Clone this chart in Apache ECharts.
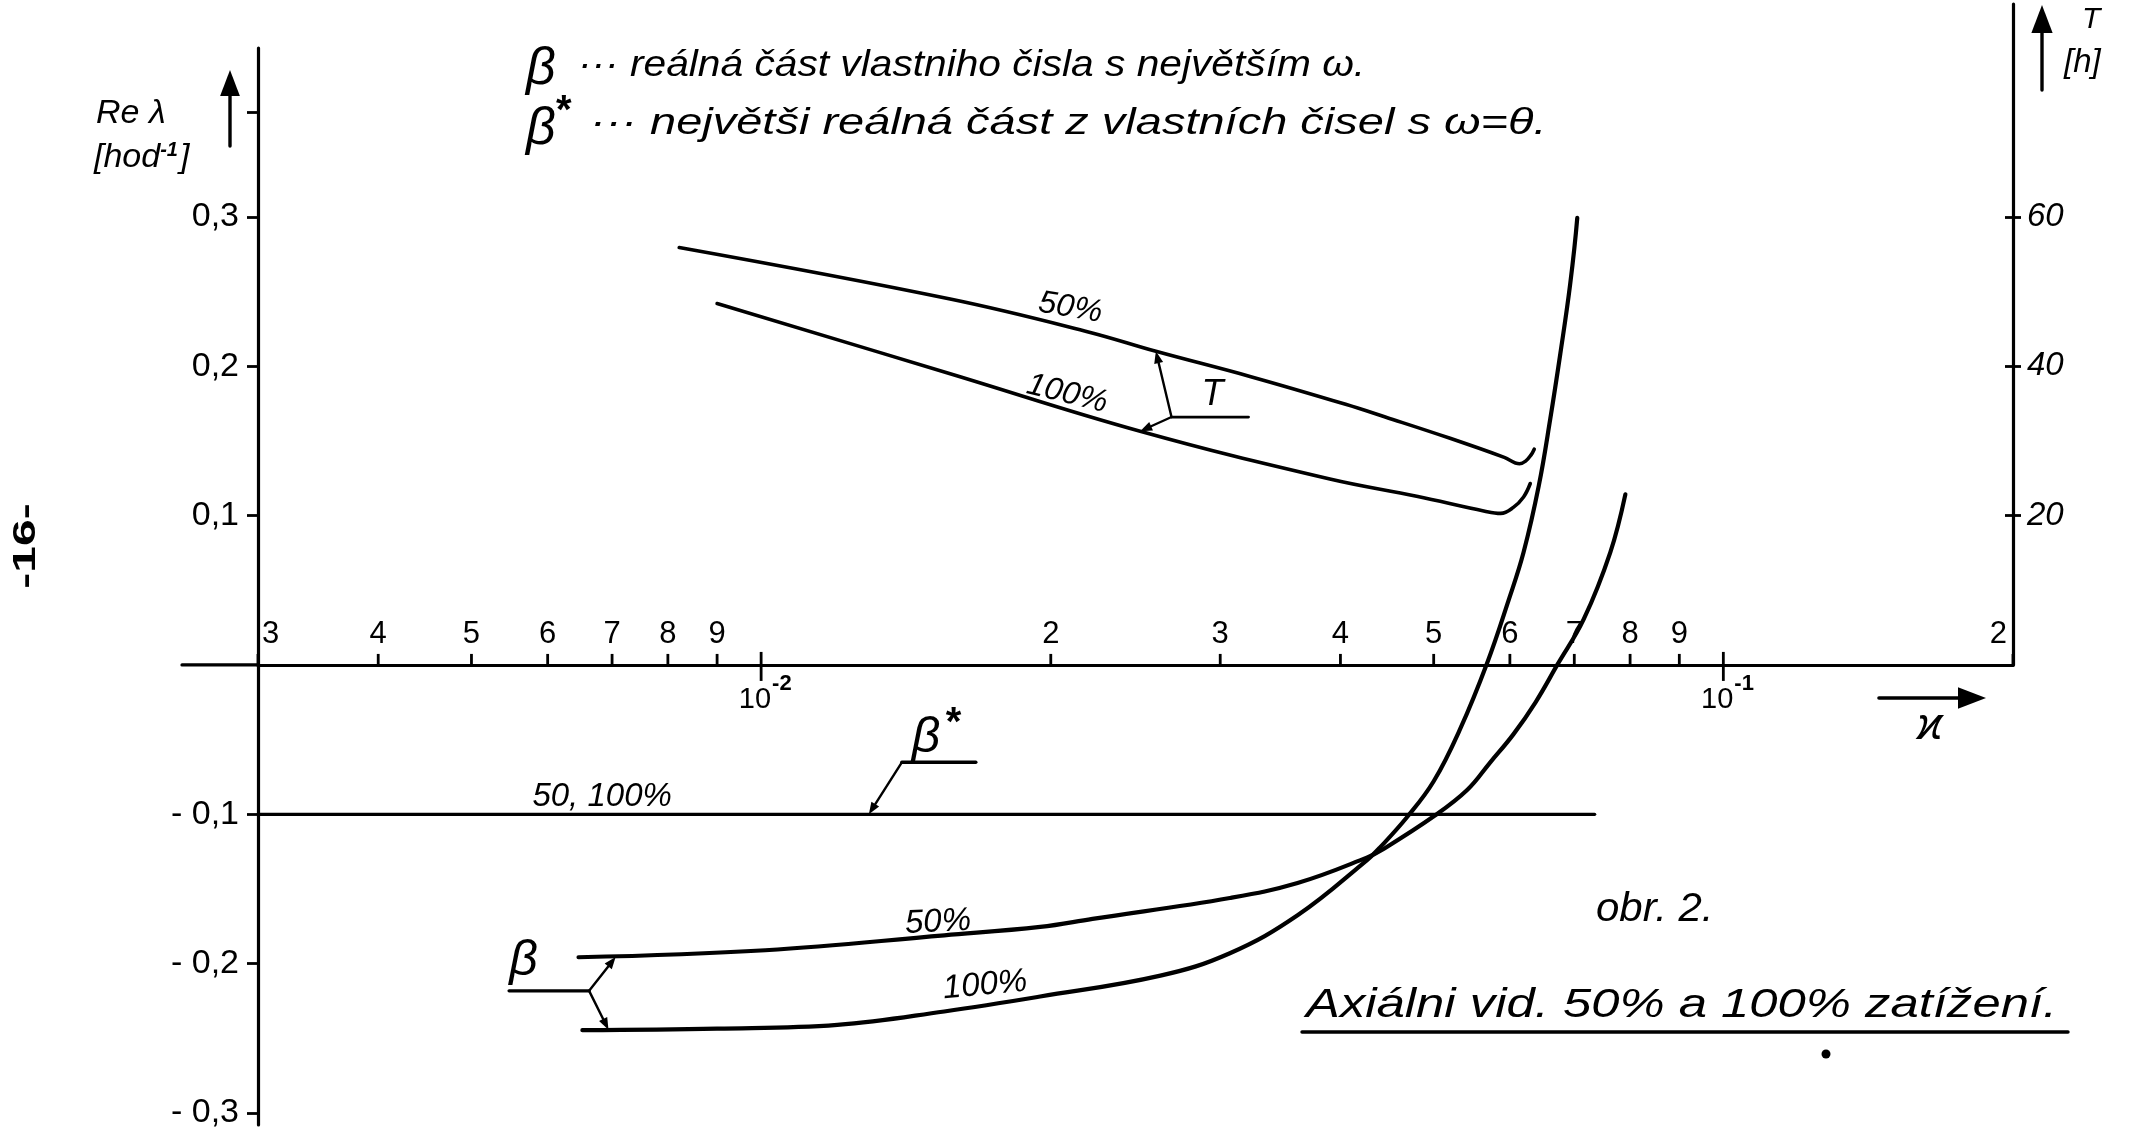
<!DOCTYPE html>
<html>
<head>
<meta charset="utf-8">
<title>Axiální vid – 50% a 100% zatížení</title>
<script src="https://cdn.jsdelivr.net/npm/echarts@6.0.0/dist/echarts.min.js"></script>
<style>
html,body{margin:0;padding:0;background:#fff;}
#chart{width:2142px;height:1132px;}
</style>
</head>
<body>
<div id="chart"></div>
<script>
// κ tick marks on the logarithmic axis
const kappaMinorTicks = [0.003,0.004,0.005,0.006,0.007,0.008,0.009,0.02,0.03,0.04,0.05,0.06,0.07,0.08,0.09,0.2];
const kappaDecadeTicks = [0.01, 0.1];
const reLambdaTicks = [-0.3,-0.2,-0.1,0.1,0.2,0.3];
const reLambdaExtraTick = [0.37];
const periodTicks = [20,40,60];

// β: real part of the eigenvalue with the largest ω   [κ, Re λ]
const beta50 = [
  [0.00646,-0.1957],[0.0101,-0.191],[0.0155,-0.181],[0.0195,-0.1754],[0.0221,-0.170],
  [0.0307,-0.156],[0.0361,-0.146],[0.0426,-0.129],[0.0443,-0.1234],[0.0501,-0.101],
  [0.0542,-0.0836],[0.05725,-0.0652],[0.0605,-0.0465],[0.0638,-0.025],[0.0672,0.0],
  [0.0716,0.0306],[0.0763,0.0754],[0.0791,0.1142]
];
const beta100 = [
  [0.00652,-0.2445],[0.0090,-0.2435],[0.0120,-0.241],[0.0155,-0.232],[0.0195,-0.222],
  [0.0260,-0.208],[0.0307,-0.193],[0.0361,-0.1676],[0.0426,-0.1308],[0.0440,-0.122],
  [0.0469,-0.102],[0.0500,-0.0779],[0.0533,-0.0425],[0.0568,0.001],[0.0598,0.0431],
  [0.0620,0.0754],[0.0643,0.120],[0.0661,0.165],[0.0677,0.2084],[0.0693,0.2545],[0.0705,0.2993]
];
// β*: largest real part among eigenvalues with ω = 0 (same for 50 and 100 %)
const betaStar = [[0.003,-0.1],[0.0735,-0.1]];
// T [h]   [κ, T]
const period50 = [
  [0.00822,55.9],[0.01572,49.0],[0.02188,44.6],[0.02572,42.0],[0.03228,38.6],[0.0405,34.9],
  [0.04453,33.2],[0.052,30.35],[0.0592,27.8],[0.0614,26.95],[0.0623,27.3],[0.0631,28.1],[0.0636,28.9]
];
const period100 = [
  [0.0090,48.4],[0.01572,39.0],[0.02477,31.3],[0.0390,24.9],[0.048,22.6],
  [0.0565,20.6],[0.0587,20.3],[0.0605,21.1],[0.0620,22.5],[0.0630,24.3]
];

const INK = '#000';
const HAND = '"Liberation Sans", "DejaVu Sans", sans-serif';
const comma = v => v.toFixed(1).replace('.', ',');

const chart = echarts.init(document.getElementById('chart'), null, {renderer: 'canvas'});

function kappaMinorItem(params, api) {
  const v = api.value(0);
  const p = api.coord([v, 0]);
  const exp = Math.floor(Math.log10(v) + 1e-9);
  const digit = Math.round(v / Math.pow(10, exp));
  let align = 'center', dx = 0;
  if (params.dataIndex === 0) { align = 'left'; dx = 4; }
  if (v >= 0.2) { align = 'right'; dx = -6; }
  return {
    type: 'group',
    children: [
      {type: 'line', shape: {x1: p[0], y1: p[1], x2: p[0], y2: p[1] - 11}, style: {stroke: INK, lineWidth: 2.8}},
      {type: 'text', style: {text: String(digit), x: p[0] + dx, y: p[1] - 15, fill: INK,
        font: '31px ' + HAND, align: align, verticalAlign: 'bottom', textAlign: align, textVerticalAlign: 'bottom'}}
    ]
  };
}

function kappaDecadeItem(params, api) {
  const v = api.value(0);
  const p = api.coord([v, 0]);
  const exp = Math.round(Math.log10(v));
  return {
    type: 'group',
    children: [
      {type: 'line', shape: {x1: p[0], y1: p[1] - 13, x2: p[0], y2: p[1] + 16}, style: {stroke: INK, lineWidth: 2.8}},
      {type: 'text', style: {text: '10', x: p[0] + 10, y: p[1] + 21, fill: INK, font: '29px ' + HAND,
        align: 'right', verticalAlign: 'top', textAlign: 'right', textVerticalAlign: 'top'}},
      {type: 'text', style: {text: '-' + Math.abs(exp), x: p[0] + 11, y: p[1] + 8, fill: INK, font: 'bold 22px ' + HAND,
        align: 'left', verticalAlign: 'top', textAlign: 'left', textVerticalAlign: 'top'}}
    ]
  };
}

const curveStyle = w => ({color: INK, width: w, cap: 'round', join: 'round'});

const option = {
  animation: false,
  backgroundColor: '#ffffff',
  grid: [
    {left: 258, right: 129, top: 48, bottom: 7, outerBoundsMode: 'none', containLabel: false},
    {left: 258, right: 129, top: 4, bottom: 467, outerBoundsMode: 'none', containLabel: false}
  ],
  xAxis: [
    {
      type: 'log', logBase: 10, gridIndex: 0, min: 0.003, max: 0.2,
      axisLine: {show: true, onZero: true, lineStyle: {color: INK, width: 3.2}},
      axisTick: {show: false}, axisLabel: {show: false}, splitLine: {show: false}, minorTick: {show: false}
    },
    {
      type: 'log', logBase: 10, gridIndex: 1, min: 0.003, max: 0.2,
      axisLine: {show: false}, axisTick: {show: false}, axisLabel: {show: false}, splitLine: {show: false}
    }
  ],
  yAxis: [
    {
      type: 'value', gridIndex: 0, position: 'left', min: -0.308, max: 0.413,
      axisLine: {show: true, onZero: false, lineStyle: {color: INK, width: 3.2}},
      axisTick: {show: true, length: 11, customValues: reLambdaTicks.concat(reLambdaExtraTick), lineStyle: {color: INK, width: 2.8}},
      axisLabel: {show: true, customValues: reLambdaTicks, margin: 19, color: INK, fontSize: 34, fontFamily: HAND,
        formatter: v => v < 0 ? '- ' + comma(-v) : comma(v)},
      splitLine: {show: false}
    },
    {
      type: 'value', gridIndex: 1, position: 'right', min: 0, max: 88.5,
      axisLine: {show: true, onZero: false, lineStyle: {color: INK, width: 3.2}},
      axisTick: {show: true, length: 8, customValues: periodTicks, lineStyle: {color: INK, width: 2.8}},
      axisLabel: {show: true, customValues: periodTicks, margin: 14, color: INK, fontSize: 33, fontFamily: HAND, fontStyle: 'italic'},
      splitLine: {show: false}
    },
    {
      type: 'value', gridIndex: 1, position: 'right', min: 0, max: 88.5,
      axisLine: {show: false},
      axisTick: {show: true, inside: true, length: 8, customValues: periodTicks, lineStyle: {color: INK, width: 2.8}},
      axisLabel: {show: false}, splitLine: {show: false}
    }
  ],
  series: [
    {name: 'β 50 %', type: 'line', xAxisIndex: 0, yAxisIndex: 0, data: beta50, showSymbol: false,
      smooth: 0.4, lineStyle: curveStyle(4.2), clip: false},
    {name: 'β 100 %', type: 'line', xAxisIndex: 0, yAxisIndex: 0, data: beta100, showSymbol: false,
      smooth: 0.4, lineStyle: curveStyle(4.2), clip: false},
    {name: 'β* 50, 100 %', type: 'line', xAxisIndex: 0, yAxisIndex: 0, data: betaStar, showSymbol: false,
      lineStyle: curveStyle(3.2), clip: false},
    {name: 'T 50 %', type: 'line', xAxisIndex: 1, yAxisIndex: 1, data: period50, showSymbol: false,
      smooth: 0.4, lineStyle: curveStyle(3.6), clip: false},
    {name: 'T 100 %', type: 'line', xAxisIndex: 1, yAxisIndex: 1, data: period100, showSymbol: false,
      smooth: 0.4, lineStyle: curveStyle(3.6), clip: false},
    {name: 'κ ticks', type: 'custom', xAxisIndex: 0, yAxisIndex: 0, clip: false, silent: true,
      data: kappaMinorTicks.map(v => [v, 0]), renderItem: kappaMinorItem},
    {name: 'κ decades', type: 'custom', xAxisIndex: 0, yAxisIndex: 0, clip: false, silent: true,
      data: kappaDecadeTicks.map(v => [v, 0]), renderItem: kappaDecadeItem}
  ]
};
chart.setOption(option);

// ---- annotations ----
const reAt = p => chart.convertToPixel({xAxisIndex: 0, yAxisIndex: 0}, p);
const tAt = p => chart.convertToPixel({xAxisIndex: 1, yAxisIndex: 1}, p);

function text(str, x, y, size, opts) {
  opts = opts || {};
  const align = opts.align || 'left';
  const va = opts.va || 'middle';
  const font = (opts.italic === false ? '' : 'italic ') + (opts.weight || 'normal') + ' ' + size + 'px ' + HAND;
  const style = {text: str, x: 0, y: 0, fill: INK, font: font,
    align: align, verticalAlign: va, textAlign: align, textVerticalAlign: va};
  if (opts.rich) style.rich = opts.rich;
  return {type: 'text', rotation: opts.rotation || 0, x: x, y: y,
    scaleX: opts.sx || 1, scaleY: opts.sy || 1, style: style};
}
function seg(a, b, w) {
  return {type: 'line', shape: {x1: a[0], y1: a[1], x2: b[0], y2: b[1]}, style: {stroke: INK, lineWidth: w || 2.4, lineCap: 'round'}};
}
function arrow(from, to, head, w) {
  const dx = to[0] - from[0], dy = to[1] - from[1];
  const len = Math.hypot(dx, dy), ux = dx / len, uy = dy / len;
  const bx = to[0] - ux * head, by = to[1] - uy * head, hw = head * 0.38;
  return [
    seg(from, [bx, by], w),
    {type: 'polygon', shape: {points: [[to[0], to[1]], [bx - uy * hw, by + ux * hw], [bx + uy * hw, by - ux * hw]]}, style: {fill: INK}}
  ];
}
const add = (p, dx, dy) => [p[0] + dx, p[1] + dy];

const g = [];

// heading
g.push(text('β', 526, 70, 52));
g.push(text('··· reálná část vlastniho čisla s největším ω.', 578, 66, 37, {sx: 1.1}));
g.push(text('β', 526, 130, 52));
g.push(text('*', 556, 112, 40, {italic: false, weight: 'bold'}));
g.push(text('··· největši reálná část z vlastních čisel s ω=θ.', 590, 124, 37, {sx: 1.27}));

// left axis name
g.push(text('Re λ', 96, 114, 34));
g.push(text('{a|[hod}{s|-1}{a|]}', 94, 158, 34, {rich: {
  a: {fontSize: 34, fontStyle: 'italic', fontFamily: HAND, fill: INK, lineHeight: 36},
  s: {fontSize: 20, fontStyle: 'italic', fontWeight: 'bold', fontFamily: HAND, fill: INK, verticalAlign: 'top', lineHeight: 36, padding: [0, 2, 0, 0]}
}}));
g.push(...arrow([230, 146], [230, 70], 26, 3.4));

// right axis name
g.push(text('T', 2082, 20, 30));
g.push(text('[h]', 2064, 63, 33));
g.push(...arrow([2042, 90], [2042, 5], 28, 3.4));

// κ axis name and arrow
g.push(...arrow([1879, 698], [1986, 698], 28, 3.6));
g.push(text('ϰ', 1930, 727, 44, {align: 'center'}));

// x axis continues left of the Re λ axis
const origin = reAt([0.003, 0]);
g.push(seg([origin[0] - 76, origin[1]], origin, 3.2));

// curve labels
let p = tAt([0.02096, 47.8]);
g.push(text('50%', p[0], p[1], 32, {align: 'center', rotation: -0.17}));
p = tAt([0.0208, 36.3]);
g.push(text('100%', p[0], p[1], 32, {align: 'center', rotation: -0.24}));
p = reAt([0.01527, -0.1722]);
g.push(text('50%', p[0], p[1], 33, {align: 'center', rotation: 0.05}));
p = reAt([0.01709, -0.2144]);
g.push(text('100%', p[0], p[1], 33, {align: 'center', rotation: 0.09}));
p = reAt([0.006835, -0.0886]);
g.push(text('50, 100%', p[0], p[1], 33, {align: 'center'}));

// T leader: one stem, two arrows to the T curves
const tJoin = tAt([0.0267, 33.2]);
g.push(seg(tJoin, add(tJoin, 77, 0), 2.8));
g.push(...arrow(tJoin, tAt([0.02572, 42.0]), 12, 2.4));
g.push(...arrow(tJoin, tAt([0.02477, 31.3]), 12, 2.4));
g.push(text('T', tJoin[0] + 30, tJoin[1] - 22, 36));

// β* leader
const bsTip = reAt([0.01294, -0.1]);
const bsKnee = add(bsTip, 33, -52);
g.push(...arrow(bsKnee, bsTip, 12, 2.4));
g.push(seg(bsKnee, add(bsKnee, 74, 0), 3.4));
g.push(text('β', bsKnee[0] + 10, bsKnee[1] - 24, 50));
g.push(text('*', bsKnee[0] + 44, bsKnee[1] - 38, 40, {italic: false, weight: 'bold'}));

// β leader
const bJoin = reAt([0.006626, -0.2182]);
g.push(seg(add(bJoin, -80, 0), bJoin, 3.4));
g.push(...arrow(bJoin, reAt([0.00706, -0.1955]), 12, 2.4));
g.push(...arrow(bJoin, reAt([0.00694, -0.2442]), 12, 2.4));
g.push(text('β', bJoin[0] - 80, bJoin[1] - 30, 50));

// figure caption
g.push(text('obr. 2.', 1596, 910, 40, {sx: 1.05}));
g.push(text('Axiálni vid. 50% a 100% zatížení.', 1306, 1006, 40, {sx: 1.27}));
g.push(seg([1302, 1032], [2068, 1032], 3.4));
g.push({type: 'circle', shape: {cx: 1826, cy: 1054, r: 4.5}, style: {fill: INK}});

// page number
g.push(text('-16-', 26, 546, 32, {italic: false, weight: 'bold', align: 'center', rotation: Math.PI / 2, sx: 1.5}));

chart.setOption({graphic: {elements: g}});
</script>
</body>
</html>
